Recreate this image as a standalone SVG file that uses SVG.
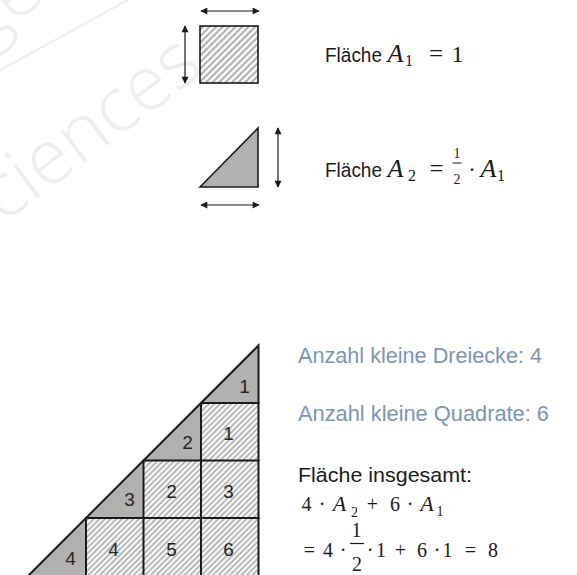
<svg xmlns="http://www.w3.org/2000/svg" width="577" height="575" viewBox="0 0 577 575">
<style>
.sans{font-family:"Liberation Sans",Arial,sans-serif;fill:#1a1a1a}
.blue{font-family:"Liberation Sans",Arial,sans-serif;fill:#7a96b7;font-size:21.7px}
.num{font-family:"Liberation Sans",Arial,sans-serif;fill:#262626;font-size:19px;text-anchor:middle}
.m{font-family:"Liberation Serif","DejaVu Serif",serif;fill:#1a1a1a;text-anchor:middle}
.it{font-style:italic}
.wm{font-family:"Open Sans","Liberation Sans",sans-serif;font-weight:300;fill:#eeeeee;font-size:76px}
.dim{stroke:#1a1a1a;stroke-width:1.2;fill:none;marker-start:url(#ah);marker-end:url(#ah)}
.edge{stroke:#1a1a1a;stroke-width:2;fill:none;stroke-linecap:square}
.tri{fill:#b3b1b0}
</style>
<defs>
<marker id="ah" viewBox="0 0 10 10" refX="9" refY="5" markerWidth="8" markerHeight="7" markerUnits="userSpaceOnUse" orient="auto-start-reverse">
<path d="M0,0 L10,5 L0,10 z" fill="#1a1a1a"/>
</marker>
<pattern id="hatchTop" patternUnits="userSpaceOnUse" width="4.6" height="4.6" patternTransform="rotate(45)">
<rect width="4.6" height="4.6" fill="#fff"/>
<line x1="1.5" y1="0" x2="1.5" y2="4.6" stroke="#a6a6a6" stroke-width="1.9"/>
</pattern>
<pattern id="hatch" patternUnits="userSpaceOnUse" width="4" height="4" patternTransform="rotate(45)">
<rect width="4" height="4" fill="#fff"/>
<line x1="1.3" y1="0" x2="1.3" y2="4" stroke="#a8a8a8" stroke-width="1.7"/>
</pattern>
</defs>
<rect width="577" height="575" fill="#fff"/>

<g id="watermark">
<line x1="-10" y1="76" x2="135" y2="-4" stroke="#eeeeee" stroke-width="2"/>
<text class="wm" transform="translate(-30,249) rotate(-37)">Sciences</text>
<text class="wm" transform="translate(-18,48) rotate(-37)">ge</text>
</g>

<g id="square-unit">
<rect x="200" y="26" width="58" height="57" fill="url(#hatchTop)" stroke="#1a1a1a" stroke-width="1.6"/>
</g>
<g id="triangle-unit">
<polygon points="200,187 258,128 258,187" class="tri" stroke="#1a1a1a" stroke-width="1.6" stroke-linejoin="miter"/>
</g>

<g id="connectors">
<line class="dim" x1="201" y1="11" x2="259" y2="11"/>
<line class="dim" x1="185" y1="26" x2="185" y2="83"/>
<line class="dim" x1="278" y1="128" x2="278" y2="187"/>
<line class="dim" x1="201" y1="205" x2="259" y2="205"/>
</g>

<g id="label-A1">
<text class="sans" x="325" y="62" font-size="19.5" textLength="57" lengthAdjust="spacingAndGlyphs">Fläche</text>
<text class="m it" x="395.5" y="62" font-size="26">A</text>
<text class="m" x="409" y="66" font-size="16">1</text>
<text class="m" x="436" y="62" font-size="25">=</text>
<text class="m" x="457.5" y="62" font-size="24">1</text>
</g>

<g id="label-A2">
<text class="sans" x="325" y="177" font-size="19.5" textLength="57" lengthAdjust="spacingAndGlyphs">Fläche</text>
<text class="m it" x="395.5" y="177" font-size="26">A</text>
<text class="m" x="412" y="181" font-size="16">2</text>
<text class="m" x="436.5" y="177" font-size="25">=</text>
<text class="m" x="457" y="158" font-size="14">1</text>
<line x1="452.5" y1="163" x2="461.5" y2="163" stroke="#1a1a1a" stroke-width="1"/>
<text class="m" x="457" y="184" font-size="14">2</text>
<text class="m" x="472" y="177" font-size="24">·</text>
<text class="m it" x="488.5" y="177" font-size="26">A</text>
<text class="m" x="501" y="181" font-size="16">1</text>
</g>

<g id="big-triangle">
<polygon class="tri" points="201,403 258.5,345.5 258.5,403"/>
<polygon class="tri" points="143.5,460.5 201,403 201,460.5"/>
<polygon class="tri" points="86,518 143.5,460.5 143.5,518"/>
<polygon class="tri" points="28.5,575.5 86,518 86,575.5"/>
<rect x="201" y="403" width="57.5" height="57.5" fill="url(#hatch)"/>
<rect x="143.5" y="460.5" width="57.5" height="57.5" fill="url(#hatch)"/>
<rect x="201" y="460.5" width="57.5" height="57.5" fill="url(#hatch)"/>
<rect x="86" y="518" width="57.5" height="57.5" fill="url(#hatch)"/>
<rect x="143.5" y="518" width="57.5" height="57.5" fill="url(#hatch)"/>
<rect x="201" y="518" width="57.5" height="57.5" fill="url(#hatch)"/>
<path class="edge" d="M28.5,575.5 L258.5,345.5 L258.5,577"/>
<path class="edge" d="M201,403 H258.5 M143.5,460.5 H258.5 M86,518 H258.5 M201,403 V577 M143.5,460.5 V577 M86,518 V577"/>
<text class="num" x="244.5" y="393">1</text>
<text class="num" x="187.5" y="449">2</text>
<text class="num" x="129.5" y="506">3</text>
<text class="num" x="70.5" y="565">4</text>
<text class="num" x="228.5" y="440">1</text>
<text class="num" x="171.5" y="498">2</text>
<text class="num" x="228.5" y="498">3</text>
<text class="num" x="113.5" y="556">4</text>
<text class="num" x="171.5" y="556">5</text>
<text class="num" x="228.5" y="556">6</text>
</g>

<g id="text-counts">
<text class="blue" x="298" y="363" textLength="244" lengthAdjust="spacingAndGlyphs">Anzahl kleine Dreiecke: 4</text>
<text class="blue" x="298" y="421" textLength="251" lengthAdjust="spacingAndGlyphs">Anzahl kleine Quadrate: 6</text>
</g>

<g id="text-total">
<text class="sans" x="298" y="482" font-size="20.5" textLength="174" lengthAdjust="spacingAndGlyphs">Fläche insgesamt:</text>
<text class="m" x="306.5" y="511" font-size="20">4</text>
<text class="m" x="322" y="511" font-size="20">·</text>
<text class="m it" x="339.5" y="511" font-size="22">A</text>
<text class="m" x="354.5" y="517" font-size="14">2</text>
<text class="m" x="372.5" y="511" font-size="20">+</text>
<text class="m" x="395" y="511" font-size="20">6</text>
<text class="m" x="410" y="511" font-size="20">·</text>
<text class="m it" x="427" y="511" font-size="22">A</text>
<text class="m" x="440" y="516" font-size="14">1</text>

<text class="m" x="309.5" y="557" font-size="20">=</text>
<text class="m" x="328" y="557" font-size="20">4</text>
<text class="m" x="343" y="557" font-size="20">·</text>
<text class="m" x="356.5" y="537" font-size="20">1</text>
<line x1="350" y1="543.5" x2="364" y2="543.5" stroke="#1a1a1a" stroke-width="1.2"/>
<text class="m" x="357" y="571" font-size="20">2</text>
<text class="m" x="370" y="557" font-size="20">·</text>
<text class="m" x="381" y="557" font-size="20">1</text>
<text class="m" x="400.5" y="557" font-size="20">+</text>
<text class="m" x="422" y="557" font-size="20">6</text>
<text class="m" x="437" y="557" font-size="20">·</text>
<text class="m" x="447.5" y="557" font-size="20">1</text>
<text class="m" x="470.5" y="557" font-size="20">=</text>
<text class="m" x="493" y="557" font-size="20">8</text>
</g>
</svg>
